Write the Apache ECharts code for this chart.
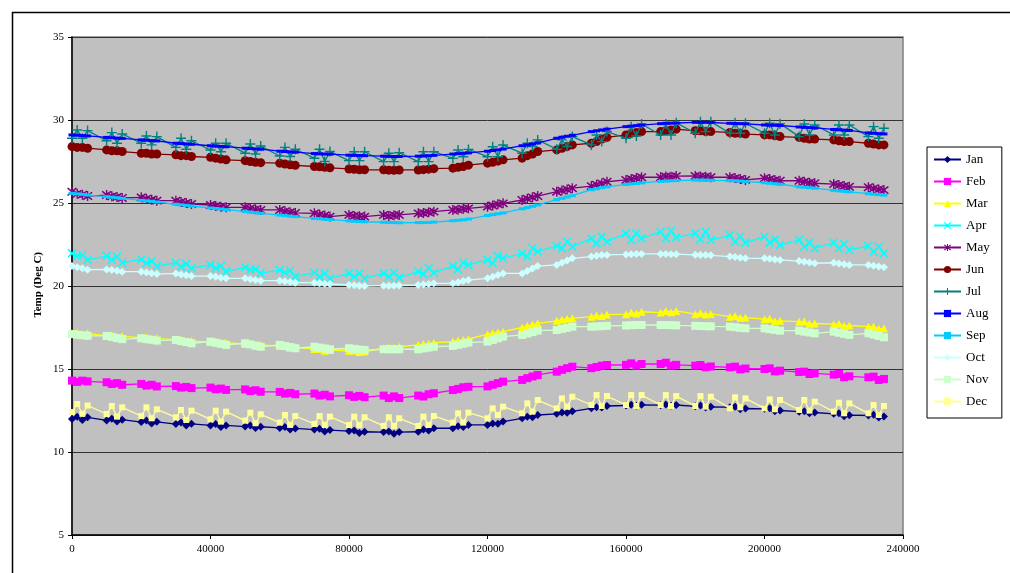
<!DOCTYPE html>
<html>
<head>
<meta charset="utf-8">
<script src="https://cdn.jsdelivr.net/npm/echarts@6/dist/echarts.min.js"></script>
<style>
html,body{margin:0;padding:0;background:#fff;}
#chart{width:1010px;height:573px;}
</style>
</head>
<body>
<div id="chart"></div>
<script>
// x values (time)
const times = [
0,1500,3000,4500, 10000,11500,13000,14500, 20000,21500,23000,24500, 30000,31500,33000,34500,
40000,41500,43000,44500, 50000,51500,53000,54500, 60000,61500,63000,64500, 70000,71500,73000,74500,
80000,81500,83000,84500, 90000,91500,93000,94500, 100000,101500,103000,104500, 110000,111500,113000,114500,
120000,121500,123000,124500, 130000,131500,133000,134500, 140000,141500,143000,144500, 150000,151500,153000,154500,
160000,161500,163000,164500, 170000,171500,173000,174500, 180000,181500,183000,184500, 190000,191500,193000,194500,
200000,201500,203000,204500, 210000,211500,213000,214500, 220000,221500,223000,224500, 230000,231500,233000,234500
];

const months = ['Jan','Feb','Mar','Apr','May','Jun','Jul','Aug','Sep','Oct','Nov','Dec'];

const jan = [11.99,12.13,11.93,12.09, 11.9,12.0,11.84,11.95, 11.8,11.9,11.72,11.82, 11.68,11.78,11.6,11.7,
11.6,11.68,11.5,11.6, 11.53,11.6,11.44,11.52, 11.45,11.5,11.35,11.42, 11.35,11.4,11.24,11.32,
11.26,11.3,11.15,11.22, 11.2,11.24,11.1,11.2, 11.22,11.35,11.3,11.43, 11.43,11.55,11.5,11.63,
11.63,11.72,11.7,11.83, 12.03,12.12,12.1,12.23, 12.3,12.38,12.36,12.45, 12.63,12.7,12.68,12.77,
12.8,12.85,12.78,12.84, 12.82,12.86,12.78,12.83, 12.75,12.8,12.68,12.72, 12.7,12.73,12.58,12.62,
12.6,12.63,12.45,12.5, 12.43,12.46,12.33,12.38, 12.3,12.33,12.15,12.22, 12.2,12.25,12.08,12.14];

const feb = [14.3,14.22,14.3,14.25, 14.2,14.1,14.15,14.05, 14.1,14.0,14.05,13.95, 13.97,13.88,13.92,13.85,
13.88,13.78,13.82,13.74, 13.77,13.67,13.72,13.63, 13.62,13.52,13.56,13.48, 13.52,13.4,13.45,13.35,
13.42,13.32,13.38,13.3, 13.4,13.25,13.35,13.25, 13.4,13.34,13.48,13.54, 13.73,13.8,13.9,13.93,
13.95,14.05,14.15,14.24, 14.34,14.45,14.55,14.64, 14.84,14.95,15.05,15.14, 15.05,15.12,15.2,15.24,
15.25,15.34,15.2,15.3, 15.3,15.38,15.2,15.25, 15.2,15.24,15.1,15.15, 15.1,15.14,14.98,15.03,
15.0,15.04,14.86,14.9, 14.82,14.84,14.7,14.74, 14.66,14.7,14.5,14.56, 14.5,14.54,14.34,14.4];

const mar = [17.15,17.2,17.1,17.15, 17.0,17.05,16.95,16.98, 16.88,16.92,16.8,16.85, 16.75,16.78,16.66,16.7,
16.62,16.66,16.55,16.58, 16.5,16.53,16.42,16.45, 16.38,16.4,16.28,16.32, 16.2,16.22,16.1,16.14,
16.1,16.12,16.02,16.05, 16.25,16.3,16.28,16.34, 16.45,16.5,16.52,16.58, 16.65,16.72,16.75,16.8,
17.1,17.15,17.22,17.25, 17.5,17.6,17.68,17.75, 17.9,17.98,18.02,18.05, 18.15,18.22,18.2,18.28,
18.3,18.4,18.35,18.45, 18.4,18.5,18.42,18.5, 18.3,18.38,18.28,18.32, 18.15,18.2,18.08,18.1,
18.0,18.02,17.88,17.9, 17.85,17.86,17.72,17.74, 17.7,17.72,17.6,17.62, 17.55,17.56,17.42,17.45];

const apr = [21.97,21.8,21.87,21.57, 21.8,21.57,21.77,21.4, 21.6,21.37,21.5,21.2, 21.4,21.17,21.33,21.07,
21.27,21.07,21.2,20.87, 21.13,20.96,21.0,20.77, 20.96,20.8,20.92,20.56, 20.8,20.56,20.76,20.46,
20.76,20.56,20.76,20.46, 20.76,20.56,20.8,20.5, 20.86,20.72,21.07,20.8, 21.2,21.0,21.4,21.27,
21.57,21.37,21.8,21.67, 21.97,21.77,22.27,22.07, 22.41,22.27,22.67,22.37, 22.85,22.57,22.97,22.67,
23.17,22.77,23.17,22.87, 23.27,22.87,23.33,22.93, 23.17,22.81,23.27,22.77, 23.07,22.67,22.97,22.61,
22.97,22.61,22.81,22.47, 22.77,22.37,22.61,22.27, 22.61,22.27,22.53,22.17, 22.41,22.07,22.37,21.97];

const may = [25.68,25.55,25.5,25.42, 25.48,25.4,25.36,25.3, 25.34,25.26,25.2,25.14, 25.14,25.06,25.0,24.94,
24.88,24.82,24.78,24.74, 24.74,24.68,24.62,24.58, 24.58,24.5,24.45,24.4, 24.38,24.3,24.25,24.18,
24.28,24.22,24.2,24.18, 24.28,24.22,24.26,24.28, 24.38,24.4,24.44,24.48, 24.58,24.6,24.65,24.68,
24.78,24.85,24.92,24.98, 25.18,25.26,25.34,25.42, 25.68,25.75,25.82,25.89, 26.02,26.1,26.18,26.28,
26.39,26.45,26.5,26.55, 26.55,26.6,26.58,26.62, 26.63,26.6,26.58,26.55, 26.55,26.5,26.45,26.39,
26.49,26.44,26.38,26.34, 26.34,26.28,26.22,26.19, 26.14,26.08,26.02,25.98, 25.95,25.88,25.82,25.78];

const jun = [28.4,28.35,28.35,28.3, 28.2,28.15,28.15,28.1, 28.0,28.0,27.95,27.95, 27.9,27.85,27.85,27.8,
27.75,27.7,27.65,27.6, 27.55,27.5,27.45,27.43, 27.4,27.35,27.3,27.27, 27.2,27.18,27.15,27.12,
27.05,27.03,27.0,27.0, 27.0,26.98,26.97,26.99, 26.99,27.01,27.04,27.07, 27.1,27.15,27.2,27.28,
27.4,27.45,27.52,27.6, 27.7,27.85,27.95,28.1, 28.2,28.3,28.4,28.5, 28.6,28.7,28.85,28.95,
29.1,29.2,29.25,29.3, 29.3,29.35,29.4,29.45, 29.35,29.35,29.3,29.3, 29.25,29.2,29.2,29.15,
29.1,29.1,29.05,29.0, 28.95,28.9,28.85,28.85, 28.8,28.75,28.7,28.7, 28.6,28.55,28.5,28.5];

const jul = [28.9,29.4,28.9,29.36, 28.75,29.24,28.6,29.16, 28.6,29.04,28.5,29.0, 28.35,28.9,28.24,28.75,
28.19,28.6,28.09,28.6, 28.0,28.55,27.95,28.43, 27.83,28.35,27.8,28.24, 27.7,28.24,27.5,28.1,
27.55,28.09,27.55,28.09, 27.49,28.0,27.49,28.03, 27.49,28.09,27.49,28.09, 27.69,28.19,27.79,28.23,
27.79,28.39,27.79,28.49, 28.0,28.6,28.4,28.8, 28.24,28.8,28.4,29.0, 28.5,29.1,28.7,29.3,
28.9,29.6,29.04,29.76, 29.1,29.76,29.1,29.84, 29.2,29.9,29.3,29.9, 29.2,29.84,29.2,29.8,
29.2,29.8,29.1,29.78, 29.0,29.76,29.1,29.7, 29.1,29.7,29.1,29.7, 29.0,29.6,28.9,29.5];

const aug = [29.1,29.08,29.06,29.04, 28.95,28.93,28.91,28.89, 28.8,28.78,28.76,28.74, 28.6,28.58,28.56,28.54,
28.45,28.43,28.41,28.39, 28.3,28.28,28.26,28.24, 28.12,28.1,28.08,28.06, 27.98,27.96,27.95,27.94,
27.88,27.87,27.86,27.85, 27.82,27.81,27.8,27.8, 27.82,27.83,27.85,27.87, 27.95,27.97,28.0,28.02,
28.12,28.16,28.2,28.25, 28.45,28.5,28.56,28.62, 28.9,28.96,29.02,29.08, 29.3,29.35,29.4,29.45,
29.6,29.63,29.66,29.69, 29.78,29.8,29.81,29.82, 29.86,29.86,29.86,29.85, 29.8,29.79,29.78,29.77,
29.7,29.69,29.68,29.67, 29.58,29.56,29.54,29.52, 29.43,29.41,29.39,29.37, 29.22,29.2,29.18,29.16];

const sep = [25.58,25.55,25.52,25.48, 25.38,25.35,25.32,25.28, 25.16,25.13,25.1,25.06, 24.92,24.89,24.86,24.82,
24.7,24.67,24.64,24.6, 24.48,24.45,24.42,24.38, 24.27,24.24,24.21,24.18, 24.07,24.05,24.02,24.0,
23.92,23.9,23.88,23.87, 23.84,23.83,23.82,23.81, 23.82,23.82,23.83,23.85, 23.93,23.96,23.99,24.03,
24.25,24.3,24.35,24.4, 24.65,24.72,24.8,24.88, 25.2,25.28,25.36,25.44, 25.8,25.86,25.92,25.97,
26.12,26.15,26.18,26.21, 26.3,26.32,26.34,26.35, 26.38,26.38,26.38,26.37, 26.35,26.34,26.32,26.3,
26.22,26.19,26.16,26.13, 25.98,25.95,25.92,25.89, 25.76,25.73,25.7,25.67, 25.56,25.53,25.5,25.47];

const oct = [21.2,21.13,21.07,20.98, 21.0,20.96,20.92,20.86, 20.86,20.82,20.77,20.72, 20.76,20.7,20.65,20.6,
20.6,20.55,20.5,20.46, 20.46,20.41,20.36,20.32, 20.32,20.28,20.24,20.2, 20.2,20.17,20.14,20.12,
20.06,20.04,20.02,20.0, 20.02,20.02,20.02,20.03, 20.06,20.09,20.12,20.16, 20.16,20.22,20.3,20.36,
20.46,20.56,20.66,20.76, 20.76,20.9,21.05,21.2, 21.27,21.4,21.54,21.67, 21.77,21.82,21.86,21.87,
21.9,21.92,21.93,21.93, 21.93,21.93,21.92,21.92, 21.88,21.87,21.86,21.85, 21.77,21.74,21.7,21.67,
21.67,21.64,21.6,21.57, 21.5,21.46,21.41,21.37, 21.4,21.36,21.31,21.27, 21.27,21.22,21.17,21.13];

const nov = [17.1,17.06,17.03,17.0, 16.99,16.93,16.86,16.8, 16.85,16.8,16.76,16.71, 16.75,16.68,16.62,16.55,
16.65,16.58,16.52,16.45, 16.55,16.48,16.41,16.34, 16.45,16.38,16.32,16.25, 16.34,16.29,16.24,16.19,
16.25,16.21,16.17,16.14, 16.19,16.19,16.19,16.19, 16.19,16.24,16.29,16.34, 16.39,16.46,16.52,16.59,
16.65,16.75,16.85,16.95, 17.05,17.14,17.22,17.31, 17.35,17.42,17.48,17.55, 17.55,17.57,17.58,17.6,
17.62,17.64,17.65,17.65, 17.65,17.65,17.64,17.63, 17.6,17.59,17.58,17.57, 17.55,17.52,17.48,17.45,
17.45,17.4,17.36,17.31, 17.31,17.25,17.2,17.15, 17.25,17.18,17.12,17.05, 17.15,17.07,16.99,16.91];

const dec = [12.4,12.89,12.3,12.8, 12.29,12.77,12.13,12.69, 12.17,12.69,12.03,12.57, 12.09,12.53,11.93,12.49,
11.97,12.49,11.83,12.43, 11.89,12.37,11.73,12.27, 11.77,12.23,11.63,12.17, 11.69,12.17,11.63,12.13,
11.63,12.13,11.63,12.09, 11.57,12.09,11.57,12.03, 11.57,12.13,11.63,12.17, 11.77,12.33,11.77,12.37,
12.03,12.63,12.23,12.73, 12.33,12.93,12.43,13.13, 12.63,13.23,12.73,13.33, 12.83,13.43,12.77,13.37,
12.83,13.43,12.77,13.43, 12.83,13.43,12.77,13.37, 12.77,13.37,12.73,13.33, 12.63,13.29,12.69,13.23,
12.63,13.17,12.57,13.13, 12.53,13.13,12.49,13.03, 12.43,12.97,12.33,12.93, 12.33,12.83,12.23,12.77];

const values = [jan,feb,mar,apr,may,jun,jul,aug,sep,oct,nov,dec];

const yTicks = { min: 5, max: 35, interval: 5 };
const xTicks = { min: 0, max: 240000, interval: 40000 };

// styles
const colors = ['#000080','#FF00FF','#FFFF00','#00FFFF','#800080','#800000','#008080','#0000FF','#00CCFF','#CCFFFF','#CCFFCC','#FFFF99'];
const X_PATH = 'path://M0,1.2L1.2,0L5,3.8L8.8,0L10,1.2L6.2,5L10,8.8L8.8,10L5,6.2L1.2,10L0,8.8L3.8,5Z';
const AST_PATH = 'path://M0,1.2L1.2,0L5,3.8L8.8,0L10,1.2L6.2,5L10,8.8L8.8,10L5,6.2L1.2,10L0,8.8L3.8,5Z M4.3,-1L5.7,-1L5.7,11L4.3,11Z';
const PLUS_PATH = 'path://M4.3,0H5.7V4.3H10V5.7H5.7V10H4.3V5.7H0V4.3H4.3Z';
const symbols = ['diamond','rect','triangle',X_PATH,AST_PATH,'circle',PLUS_PATH,'rect','rect','diamond','rect','rect'];
const sizes = [8,8,8,9,10,9,10,[7,3],[7,3],8,8,6];

const serif = '"Liberation Serif","Times New Roman",serif';

const series = months.map((m, i) => ({
  name: m,
  type: 'line',
  data: times.map((t, j) => [t, values[i][j]]),
  symbol: symbols[i],
  symbolSize: sizes[i],
  showAllSymbol: true,
  lineStyle: { color: colors[i], width: 1.3 },
  itemStyle: { color: colors[i] },
  emphasis: { disabled: true },
  z: 2 + i
}));

const chart = echarts.init(document.getElementById('chart'), null, { renderer: 'canvas' });
chart.setOption({
  animation: false,
  backgroundColor: '#ffffff',
  color: colors,
  textStyle: { fontFamily: serif },
  graphic: [
    { type: 'rect', left: 10, top: 10, shape: { width: 1010, height: 580 },
      style: { fill: 'none', stroke: '#000', lineWidth: 1.5 }, z: -10, silent: true },
    { type: 'text', left: 33, top: 252, rotation: Math.PI / 2,
      style: { text: 'Temp (Deg C)', font: 'bold 11px ' + serif, fill: '#000' }, silent: true }
  ],
  grid: {
    left: 72, right: 107, top: 37, bottom: 38,
    show: true, backgroundColor: '#C0C0C0', borderColor: '#808080', borderWidth: 1.5
  },
  legend: {
    orient: 'vertical',
    left: 927, top: 147,
    backgroundColor: '#ffffff',
    borderColor: '#000', borderWidth: 1,
    padding: [6, 12, 10, 6],
    itemWidth: 27, itemHeight: 9, itemGap: 9,
    textStyle: { fontFamily: serif, fontSize: 13, color: '#000' },
    data: months
  },
  xAxis: {
    type: 'value',
    min: xTicks.min, max: xTicks.max, interval: xTicks.interval,
    axisLine: { show: true, lineStyle: { color: '#000', width: 1.5 } },
    axisTick: { show: true, length: 4, lineStyle: { color: '#000' } },
    axisLabel: { fontFamily: serif, fontSize: 11, color: '#000', margin: 9,
      formatter: v => String(v) },
    splitLine: { show: false }
  },
  yAxis: {
    type: 'value',
    min: yTicks.min, max: yTicks.max, interval: yTicks.interval,
    axisLine: { show: true, lineStyle: { color: '#000', width: 1.5 } },
    axisTick: { show: true, length: 4, lineStyle: { color: '#000' } },
    axisLabel: { fontFamily: serif, fontSize: 11, color: '#000', margin: 8 },
    splitLine: { show: true, lineStyle: { color: '#333', width: 1 } }
  },
  series: series
});
</script>
</body>
</html>
